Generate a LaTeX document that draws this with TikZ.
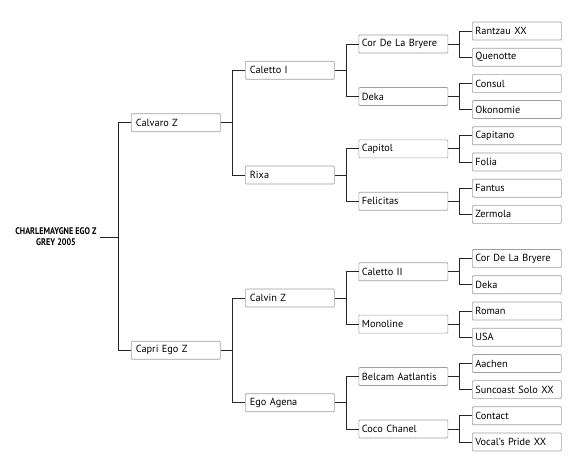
\documentclass[tikz,border=0pt]{standalone}
\usepackage{fontspec}
\setmainfont{PT Sans}
\newfontfamily\condfont[FakeStretch=0.85]{PT Sans}
\usetikzlibrary{calc}
\tikzset{
  horse/.style={draw=gray!75,line width=0.7pt,rounded corners=1pt,anchor=west,
    minimum height=18pt,text width=83pt,inner xsep=3pt,inner ysep=0pt,
    align=left,font=\fontsize{10.3}{12}\selectfont},
  root/.style={align=center,inner sep=3pt,font=\condfont\bfseries\fontsize{9.6}{11}\selectfont},
  link/.style={draw=black!85,line width=0.8pt}
}
\newcommand{\pedlink}[2]{\draw[link] (#1.east) -| ([xshift=-12.5pt]#2.west) -- (#2.west);}
\begin{document}
\begin{tikzpicture}[x=1pt,y=-1pt]
\useasboundingbox (0,0) rectangle (575,470);
% subject
\node[root] (charlemaygne) at (56,237) {CHARLEMAYGNE EGO Z\\GREY 2005};
% parents
\node[horse] (calvaro) at (131,122.7) {\hspace{1.5pt}Calvaro Z};
\node[horse] (capri) at (131,350.3) {\hspace{1.5pt}Capri Ego Z};
% grandparents
\node[horse] (caletto) at (245,70.3) {\hspace{1.5pt}Caletto I};
\node[horse] (rixa) at (245,175.1) {\hspace{1.5pt}Rixa};
\node[horse] (calvin) at (245,297.9) {\hspace{1.5pt}Calvin Z};
\node[horse] (egoagena) at (245,402.7) {\hspace{1.5pt}Ego Agena};
% great-grandparents
\node[horse] (cor) at (358.5,44.1) {Cor De La Bryere};
\node[horse] (deka) at (358.5,96.5) {Deka};
\node[horse] (capitol) at (358.5,148.9) {Capitol};
\node[horse] (felicitas) at (358.5,201.3) {Felicitas};
\node[horse] (calettoii) at (358.5,271.7) {Caletto II};
\node[horse] (monoline) at (358.5,324.1) {Monoline};
\node[horse] (belcam) at (358.5,376.5) {Belcam Aatlantis};
\node[horse] (coco) at (358.5,428.9) {Coco Chanel};
% great-great-grandparents
\node[horse] (rantzau) at (472,31) {Rantzau XX};
\node[horse] (quenotte) at (472,57.2) {Quenotte};
\node[horse] (consul) at (472,83.4) {Consul};
\node[horse] (okonomie) at (472,109.6) {Okonomie};
\node[horse] (capitano) at (472,135.8) {Capitano};
\node[horse] (folia) at (472,162) {Folia};
\node[horse] (fantus) at (472,188.2) {Fantus};
\node[horse] (zermola) at (472,214.4) {Zermola};
\node[horse] (cor2) at (472,258.6) {Cor De La Bryere};
\node[horse] (deka2) at (472,284.8) {Deka};
\node[horse] (roman) at (472,311) {Roman};
\node[horse] (usa) at (472,337.2) {USA};
\node[horse] (aachen) at (472,363.4) {Aachen};
\node[horse] (suncoast) at (472,389.6) {Suncoast Solo XX};
\node[horse] (contact) at (472,415.8) {Contact};
\node[horse] (vocal) at (472,442) {Vocal's Pride XX};
% links
\pedlink{charlemaygne}{calvaro}
\pedlink{charlemaygne}{capri}
\pedlink{calvaro}{caletto}
\pedlink{calvaro}{rixa}
\pedlink{capri}{calvin}
\pedlink{capri}{egoagena}
\pedlink{caletto}{cor}
\pedlink{caletto}{deka}
\pedlink{rixa}{capitol}
\pedlink{rixa}{felicitas}
\pedlink{calvin}{calettoii}
\pedlink{calvin}{monoline}
\pedlink{egoagena}{belcam}
\pedlink{egoagena}{coco}
\pedlink{cor}{rantzau}
\pedlink{cor}{quenotte}
\pedlink{deka}{consul}
\pedlink{deka}{okonomie}
\pedlink{capitol}{capitano}
\pedlink{capitol}{folia}
\pedlink{felicitas}{fantus}
\pedlink{felicitas}{zermola}
\pedlink{calettoii}{cor2}
\pedlink{calettoii}{deka2}
\pedlink{monoline}{roman}
\pedlink{monoline}{usa}
\pedlink{belcam}{aachen}
\pedlink{belcam}{suncoast}
\pedlink{coco}{contact}
\pedlink{coco}{vocal}
\end{tikzpicture}
\end{document}
